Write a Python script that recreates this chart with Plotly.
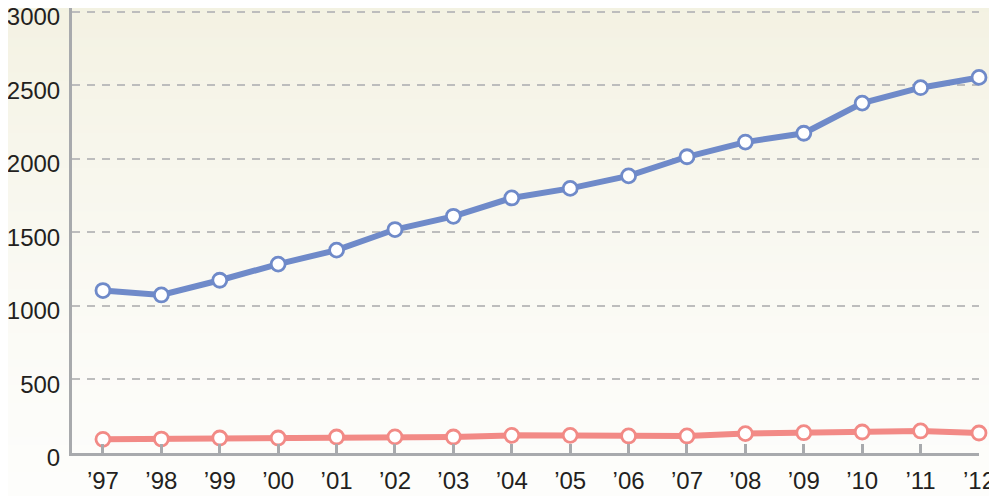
import plotly.graph_objects as go

# data
years = ["\u201997", "\u201998", "\u201999", "\u201900", "\u201901", "\u201902", "\u201903", "\u201904",
         "\u201905", "\u201906", "\u201907", "\u201908", "\u201909", "\u201910", "\u201911", "\u201912"]
blue_vals = [1105, 1075, 1175, 1285, 1380, 1520, 1610, 1735,
             1800, 1885, 2015, 2115, 2175, 2380, 2485, 2555]
pink_vals = [93, 95, 102, 102, 109, 110, 109, 120,
             120, 116, 116, 132, 138, 143, 150, 136]
y_ticks = [0, 500, 1000, 1500, 2000, 2500, 3000]

xs = list(range(len(years)))

fig = go.Figure()

# background gradient (beige at top to near white at bottom)
top = (243, 241, 225)
bot = (253, 253, 251)
n = 60
y0, y1 = -0.12, 1.05
for i in range(n):
    t = i / (n - 1)
    f = t ** 1.4
    c = tuple(round(bot[k] + (top[k] - bot[k]) * f) for k in range(3))
    fig.add_shape(type="rect", xref="paper", yref="paper",
                  x0=-0.1, x1=1.1,
                  y0=y0 + (y1 - y0) * i / n, y1=y0 + (y1 - y0) * (i + 1) / n + 0.002,
                  fillcolor="rgb(%d,%d,%d)" % c, line_width=0, layer="below")

fig.add_trace(go.Scatter(
    x=xs, y=blue_vals, mode="lines+markers",
    line=dict(color="#6f8ac9", width=6),
    marker=dict(size=14, color="white", line=dict(color="#6f8ac9", width=2.8)),
    showlegend=False, cliponaxis=False))

fig.add_trace(go.Scatter(
    x=xs, y=pink_vals, mode="lines+markers",
    line=dict(color="#f28a86", width=6),
    marker=dict(size=14, color="white", line=dict(color="#f28a86", width=2.8)),
    showlegend=False, cliponaxis=False))

# page body adds an 8px offset, so the figure is sized and placed for that
fig.update_layout(
    width=989, height=488,
    margin=dict(l=64, r=18, t=0, b=43),
    paper_bgcolor="#fafaf5",
    plot_bgcolor="rgba(0,0,0,0)",
    font=dict(family="Liberation Sans, Arial, sans-serif", size=24, color="#231f20"),
    xaxis=dict(
        range=[-0.53, 15], tickvals=xs, ticktext=years,
        showgrid=False, zeroline=False, automargin=False,
        showline=True, linecolor="#a8aaad", linewidth=3,
        ticks="inside", ticklen=9, tickwidth=3, tickcolor="#a8aaad",
        ticklabelstandoff=4, ticklabeloverflow="allow",
    ),
    yaxis=dict(
        range=[0, 3027], tickvals=y_ticks,
        showgrid=True, gridcolor="#bdbdbd", gridwidth=1.5, griddash="8px,7px",
        zeroline=False, automargin=False,
        showline=True, linecolor="#a8aaad", linewidth=3,
        ticks="", ticklabelstandoff=4, ticklabelshift=5, ticklabeloverflow="allow",
    ),
)

fig.write_html("out.html")
